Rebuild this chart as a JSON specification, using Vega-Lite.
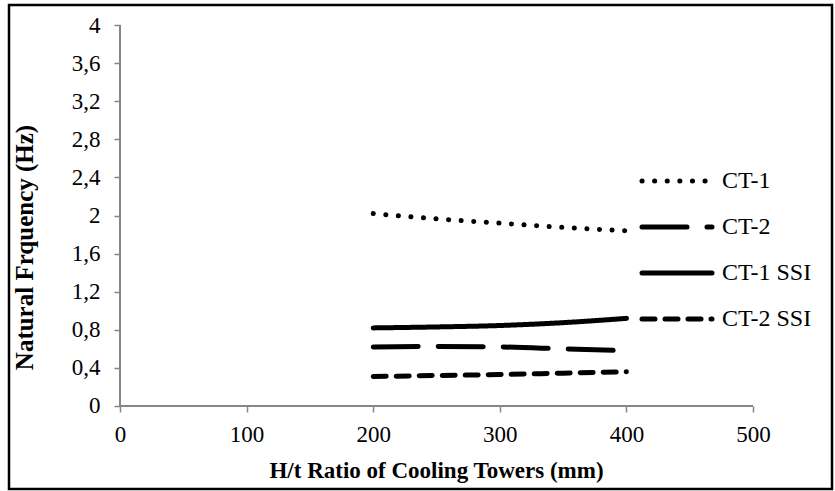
{
  "$schema": "https://vega.github.io/schema/vega-lite/v6.json",
  "width": 823,
  "height": 484,
  "autosize": {"type": "none"},
  "padding": {"left": 9, "top": 5, "right": 3, "bottom": 2},
  "background": "white",
  "config": {
    "view": {"stroke": "black", "strokeWidth": 2.5},
    "font": "Liberation Serif"
  },
  "data": {
    "values": [
      {"ratio": 200, "series": "CT-1", "freq": 2.02},
      {"ratio": 250, "series": "CT-1", "freq": 1.965},
      {"ratio": 300, "series": "CT-1", "freq": 1.92},
      {"ratio": 350, "series": "CT-1", "freq": 1.875},
      {"ratio": 400, "series": "CT-1", "freq": 1.84},
      {"ratio": 200, "series": "CT-2", "freq": 0.62},
      {"ratio": 250, "series": "CT-2", "freq": 0.625},
      {"ratio": 300, "series": "CT-2", "freq": 0.62},
      {"ratio": 350, "series": "CT-2", "freq": 0.6},
      {"ratio": 400, "series": "CT-2", "freq": 0.58},
      {"ratio": 200, "series": "CT-1 SSI", "freq": 0.82},
      {"ratio": 250, "series": "CT-1 SSI", "freq": 0.83},
      {"ratio": 300, "series": "CT-1 SSI", "freq": 0.845},
      {"ratio": 350, "series": "CT-1 SSI", "freq": 0.875},
      {"ratio": 400, "series": "CT-1 SSI", "freq": 0.92},
      {"ratio": 200, "series": "CT-2 SSI", "freq": 0.31},
      {"ratio": 250, "series": "CT-2 SSI", "freq": 0.32},
      {"ratio": 300, "series": "CT-2 SSI", "freq": 0.33},
      {"ratio": 350, "series": "CT-2 SSI", "freq": 0.345},
      {"ratio": 400, "series": "CT-2 SSI", "freq": 0.36}
    ]
  },
  "layer": [
    {
      "mark": {"type": "line", "interpolate": "monotone", "strokeCap": "round", "strokeWidth": 5, "color": "black"},
      "encoding": {
        "x": {
          "field": "ratio",
          "type": "quantitative",
          "scale": {"domain": [-87.68, 562.4], "nice": false, "zero": false},
          "axis": {
            "title": "H/t Ratio of Cooling Towers (mm)",
            "values": [0, 100, 200, 300, 400, 500],
            "offset": -83,
            "domain": false,
            "grid": false,
            "tickColor": "#868686",
            "tickSize": 6,
            "tickWidth": 1.5,
            "labelFontSize": 23,
            "labelColor": "black",
            "labelPadding": 11,
            "titleFontSize": 23,
            "titleFontWeight": "bold",
            "titleColor": "black",
            "titlePadding": 13,
            "titleX": 427
          }
        },
        "y": {
          "field": "freq",
          "type": "quantitative",
          "scale": {"domain": [-0.8714, 4.21], "nice": false, "zero": false},
          "axis": {
            "title": "Natural Frquency (Hz)",
            "values": [0, 0.4, 0.8, 1.2, 1.6, 2, 2.4, 2.8, 3.2, 3.6, 4],
            "labelExpr": "replace(format(datum.value, '~g'), '.', ',')",
            "offset": -111,
            "domain": false,
            "grid": false,
            "tickColor": "#868686",
            "tickSize": 6,
            "tickWidth": 1.5,
            "labelFontSize": 23,
            "labelColor": "black",
            "labelPadding": 14,
            "titleFontSize": 25,
            "titleFontWeight": "bold",
            "titleColor": "black",
            "titlePadding": 34
          }
        },
        "strokeDash": {
          "field": "series",
          "type": "nominal",
          "scale": {
            "domain": ["CT-1", "CT-2", "CT-1 SSI", "CT-2 SSI"],
            "range": [[0.1, 12.5], [45, 20], [1, 0], [13, 10]]
          },
          "legend": {
            "orient": "none",
            "legendX": 648,
            "legendY": 156,
            "title": null,
            "padding": 0,
            "symbolType": "M-2,0H2",
            "symbolSize": 1225,
            "symbolStrokeWidth": 5,
            "symbolStrokeColor": "black",
            "labelFontSize": 24,
            "labelColor": "black",
            "labelOffset": 25,
            "rowPadding": 14,
            "encode": {"symbols": {"update": {"strokeCap": {"value": "round"}}}}
          }
        }
      }
    },
    {
      "mark": {"type": "rule", "color": "#868686", "strokeWidth": 1.5},
      "encoding": {
        "x": {"datum": 0, "type": "quantitative"},
        "y": {"datum": 0, "type": "quantitative"},
        "y2": {"datum": 4}
      }
    },
    {
      "mark": {"type": "rule", "color": "#868686", "strokeWidth": 1.5},
      "encoding": {
        "y": {"datum": 0, "type": "quantitative"},
        "x": {"datum": 0, "type": "quantitative"},
        "x2": {"datum": 500}
      }
    }
  ]
}
